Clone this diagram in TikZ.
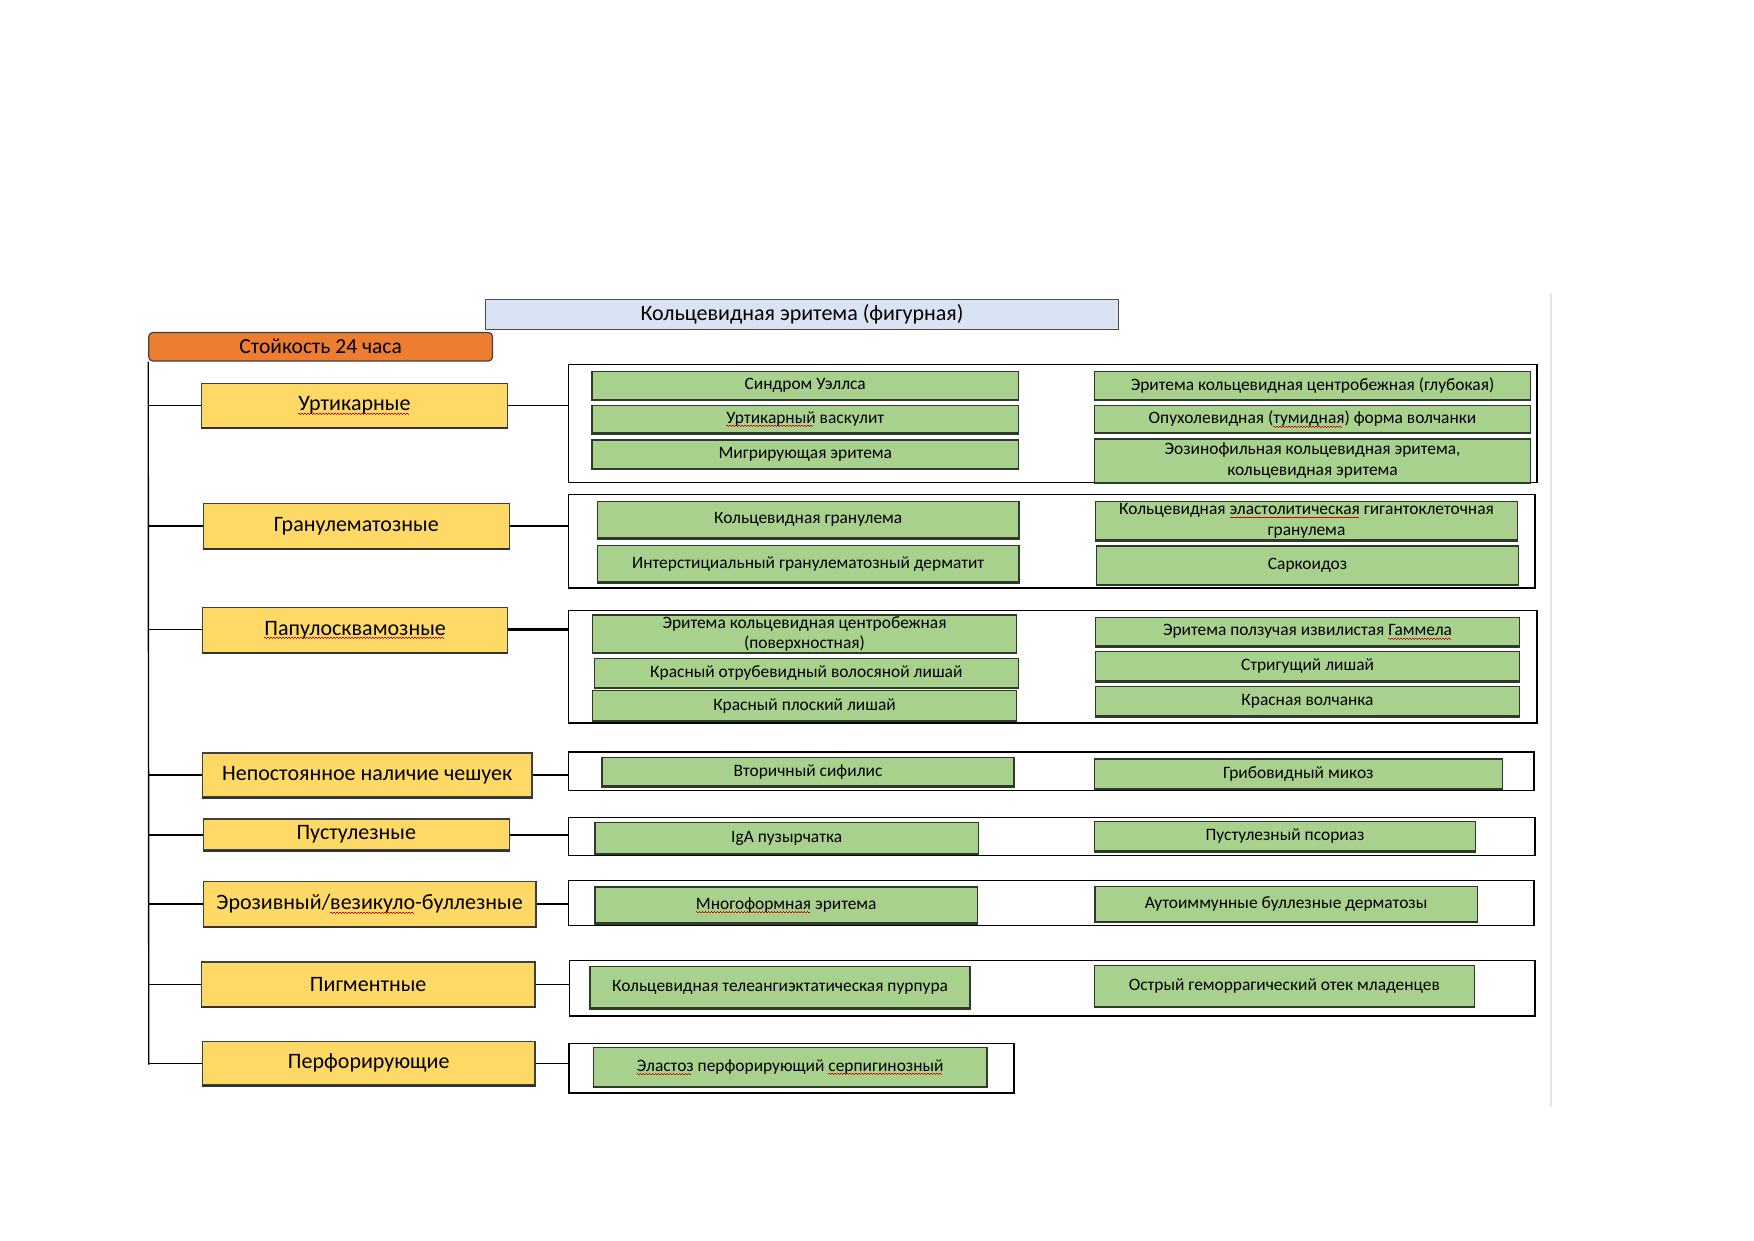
\documentclass[tikz,border=0pt]{standalone}
\usepackage{fontspec}
\setmainfont{Carlito}
\definecolor{titleblue}{HTML}{DAE3F3}
\definecolor{orangec}{HTML}{ED7D31}
\definecolor{yellowc}{HTML}{FFD966}
\definecolor{greenc}{HTML}{A9D18E}
\definecolor{darkg}{HTML}{2E3B2A}
\newsavebox\sqbox
\newcommand\sq[1]{\sbox\sqbox{#1}\rlap{\raisebox{-3.5pt}{\color{red!85!black}\hbox to \wd\sqbox{\leaders\hbox to 3pt{\rule[0.8pt]{1.5pt}{0.7pt}\rule{1.5pt}{0.7pt}}\hfill}}}\usebox\sqbox}
\newcommand\mybox[7]{\node[#1, minimum width={(#5-#3)*1pt}, minimum height={(#6-#4)*1pt}] (#2) at ({(#3+#5)/2},{(#4+#6)/2}) {#7};}
\tikzset{
  base/.style={rectangle, inner sep=0pt, align=center, text=black},
  titlebox/.style={base, fill=titleblue, draw=black!70, line width=1pt, font=\fontsize{22}{24}\selectfont},
  orangebox/.style={base, fill=orangec, draw=black!75, line width=1.2pt, rounded corners=4pt, font=\fontsize{21.5}{24}\selectfont},
  catbox/.style={base, fill=yellowc, draw=black!75, line width=1.1pt, font=\fontsize{22}{26}\selectfont,
    append after command={(\tikzlastnode.south west) edge[line width=2pt, draw=black!80] (\tikzlastnode.south east)}},
  grpbox/.style={rectangle, draw=black, line width=1.4pt, inner sep=0pt},
  greenbox/.style={base, fill=greenc, draw=darkg, line width=1.1pt, font=\fontsize{17.4}{20.5}\selectfont,
    append after command={(\tikzlastnode.south west) edge[line width=2pt, draw=darkg] (\tikzlastnode.south east)}},
  link/.style={draw=black, line width=1.4pt},
  thicklink/.style={draw=black, line width=2.6pt},
}
\begin{document}
\begin{tikzpicture}[x=1pt,y=-1pt]
\useasboundingbox[fill=white] (0,0) rectangle (1754,1240);
% page edge
\draw[gray!20, line width=2pt] (1551,293) -- (1551,1107);
% title and persistence
\mybox{titlebox}{title}{485.5}{299}{1118.6}{329}{Кольцевидная эритема (фигурная)}
\mybox{orangebox}{persist}{148.8}{332.5}{492.5}{361}{Стойкость 24 часа}
% categories
\mybox{catbox}{c1}{201.3}{383.5}{507.5}{427.5}{\sq{Уртикарные}}
\mybox{catbox}{c2}{203.3}{503.3}{509.2}{548.7}{Гранулематозные}
\mybox{catbox}{c3}{202.5}{607.3}{507.8}{652.2}{\sq{Папулосквамозные}}
\mybox{catbox}{c4}{202.5}{753}{532}{797}{Непостоянное наличие чешуек}
\mybox{catbox}{c5}{203.3}{819}{509.2}{850}{Пустулезные}
\mybox{catbox}{c6}{203.3}{881.6}{536}{926.5}{Эрозивный/\sq{везикуло}-буллезные}
\mybox{catbox}{c7}{201.3}{962}{535}{1006.7}{Пигментные}
\mybox{catbox}{c8}{202.5}{1041.5}{535}{1085}{Перфорирующие}
% groups
\mybox{grpbox}{g1}{568.3}{364.5}{1537}{482.4}{}
\mybox{grpbox}{g2}{568.3}{494.5}{1535}{588}{}
\mybox{grpbox}{g3}{568.3}{610.5}{1537}{723}{}
\mybox{grpbox}{g4}{568.3}{752}{1534}{790.3}{}
\mybox{grpbox}{g5}{568.3}{817.7}{1535}{855.3}{}
\mybox{grpbox}{g6}{568.3}{880.5}{1534}{925.3}{}
\mybox{grpbox}{g7}{569.4}{960.3}{1535}{1016}{}
\mybox{grpbox}{g8}{569}{1043.5}{1014}{1093}{}
% group 1
\mybox{greenbox}{d11}{592}{371.7}{1018.5}{399.3}{Синдром Уэллса}
\mybox{greenbox}{d12}{592}{405.7}{1018.5}{433}{\sq{Уртикарный} васкулит}
\mybox{greenbox}{d13}{592}{440}{1018.5}{468.3}{Мигрирующая эритема}
\mybox{greenbox}{d14}{1094.3}{371.7}{1530.7}{399.3}{Эритема кольцевидная центробежная (глубокая)}
\mybox{greenbox}{d15}{1094.3}{405.7}{1530.7}{432.7}{Опухолевидная (\sq{тумидная}) форма волчанки}
\mybox{greenbox}{d16}{1094.3}{439}{1530.7}{482.4}{Эозинофильная кольцевидная эритема,\\кольцевидная эритема}
% group 2
\mybox{greenbox}{d21}{597.3}{501.5}{1019}{538}{Кольцевидная гранулема}
\mybox{greenbox}{d22}{597.3}{545.5}{1019}{582}{Интерстициальный гранулематозный дерматит}
\mybox{greenbox}{d23}{1095.7}{501.5}{1517.3}{540}{Кольцевидная \sq{эластолитическая} гигантоклеточная\\гранулема}
\mybox{greenbox}{d24}{1096.7}{546}{1518.3}{584.3}{Саркоидоз}
% group 3
\mybox{greenbox}{d31}{592.3}{615}{1016.7}{652.5}{Эритема кольцевидная центробежная\\(поверхностная)}
\mybox{greenbox}{d32}{594.3}{658.5}{1018.3}{687.3}{Красный отрубевидный волосяной лишай}
\mybox{greenbox}{d33}{592.3}{690.7}{1016.7}{720.7}{Красный плоский лишай}
\mybox{greenbox}{d34}{1095.7}{617.7}{1519.3}{646}{Эритема ползучая извилистая \sq{Гаммела}}
\mybox{greenbox}{d35}{1095.7}{651.7}{1519.3}{681}{Стригущий лишай}
\mybox{greenbox}{d36}{1095.7}{686.7}{1519.3}{716}{Красная волчанка}
% group 4
\mybox{greenbox}{d41}{602}{757.3}{1014}{786}{Вторичный сифилис}
\mybox{greenbox}{d42}{1094.3}{759}{1502.3}{788.3}{Грибовидный микоз}
% group 5
\mybox{greenbox}{d51}{595}{822.5}{978.3}{853.5}{IgA пузырчатка}
\mybox{greenbox}{d52}{1094.3}{821.7}{1475.7}{851}{Пустулезный псориаз}
% group 6
\mybox{greenbox}{d61}{595}{887}{977.5}{923}{\sq{Многоформная} эритема}
\mybox{greenbox}{d62}{1095}{886.7}{1477.3}{921.7}{Аутоиммунные буллезные дерматозы}
% group 7
\mybox{greenbox}{d71}{590}{966.5}{970}{1008}{Кольцевидная телеангиэктатическая пурпура}
\mybox{greenbox}{d72}{1094.3}{965.7}{1474.3}{1006.7}{Острый геморрагический отек младенцев}
% group 8
\mybox{greenbox}{d81}{593.5}{1047.5}{987}{1086.5}{\sq{Эластоз} перфорирующий \sq{серпигинозный}}
% trunk
\coordinate (trunkend) at (148.8,1064.5);
\draw[link] (persist.south west) -- (trunkend);
\foreach \c in {c1,c2,c3,c4,c6,c7,c8}{
  \draw[link] (\c.west -| persist.south west) -- (\c.west);
}
\draw[line width=2pt] (c5.west -| persist.south west) -- (c5.west);
% category to group links
\draw[link] (c1.east) -- (c1.east -| g1.west);
\draw[link] (c2.east) -- (c2.east -| g2.west);
\draw[thicklink] (c3.east) -- (c3.east -| g3.west);
\draw[link] (c4.east) -- (c4.east -| g4.west);
\draw[line width=2pt] (c5.east) -- (c5.east -| g5.west);
\draw[link] (c6.east) -- (c6.east -| g6.west);
\draw[link] (c7.east) -- (c7.east -| g7.west);
\draw[link] (c8.east) -- (c8.east -| g8.west);
\end{tikzpicture}
\end{document}
